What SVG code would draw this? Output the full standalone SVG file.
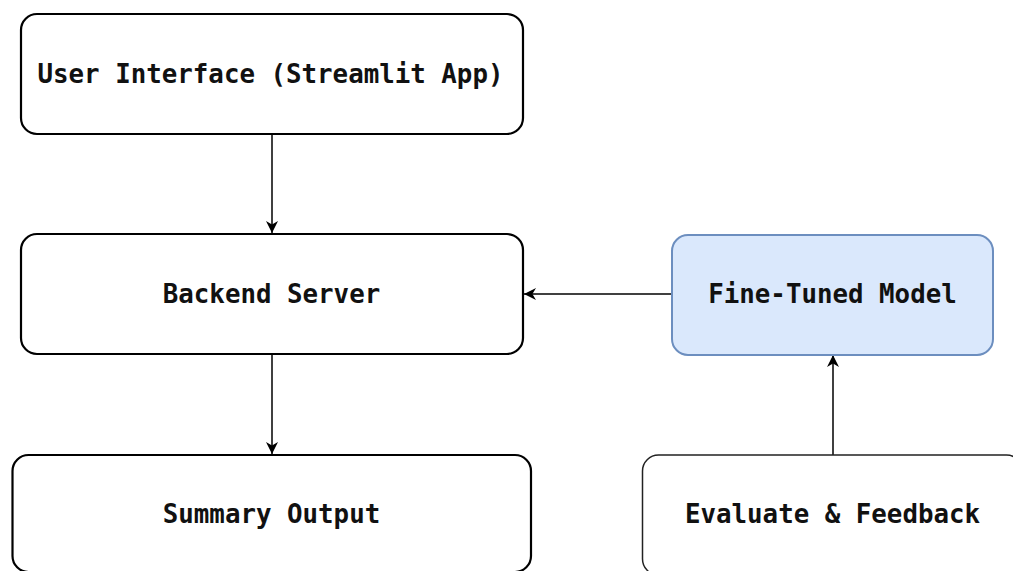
<svg xmlns="http://www.w3.org/2000/svg" width="1013" height="571" viewBox="0 0 1013 571">
<style>
.box{fill:#ffffff;stroke:#000000;stroke-width:2.2}
.thin{stroke-width:1.5;stroke:#222222}
.blue{fill:#dae8fc;stroke:#6c8ebf;stroke-width:2}
.lbl{font-family:"DejaVu Sans Mono","Liberation Mono",monospace;font-weight:bold;font-size:25.8px;fill:#111111;text-anchor:middle}
.edge{stroke:#000000;stroke-width:1.5;fill:none}
</style>
<defs>
<marker id="arr" viewBox="0 0 10 10" refX="10" refY="5" markerWidth="12" markerHeight="12" markerUnits="userSpaceOnUse" orient="auto">
<path d="M0,0 L10,5 L0,10 L3,5 Z" fill="#000000"/>
</marker>
</defs>
<rect width="1013" height="571" fill="#ffffff"/>
<g id="connectors">
<path class="edge" d="M272,134 L272,233" marker-end="url(#arr)"/>
<path class="edge" d="M272,354 L272,454" marker-end="url(#arr)"/>
<path class="edge" d="M672,294 L524,294" marker-end="url(#arr)"/>
<path class="edge" d="M833,455 L833,355" marker-end="url(#arr)"/>
</g>
<g id="node-ui">
<rect class="box" x="21" y="14" width="502" height="120" rx="16"/>
<text class="lbl" x="270.5" y="83">User Interface (Streamlit App)</text>
</g>
<g id="node-backend">
<rect class="box" x="21" y="234" width="502" height="120" rx="16"/>
<text class="lbl" x="271.5" y="303">Backend Server</text>
</g>
<g id="node-summary">
<rect class="box" x="12.5" y="455" width="518.5" height="117" rx="16"/>
<text class="lbl" x="271.5" y="523">Summary Output</text>
</g>
<g id="node-model">
<rect class="blue" x="672" y="235" width="321" height="120" rx="16"/>
<text class="lbl" x="832.5" y="303">Fine-Tuned Model</text>
</g>
<g id="node-evaluate">
<rect class="box thin" x="642.5" y="455" width="380" height="120" rx="16"/>
<text class="lbl" x="832.5" y="523">Evaluate &amp; Feedback</text>
</g>
</svg>
